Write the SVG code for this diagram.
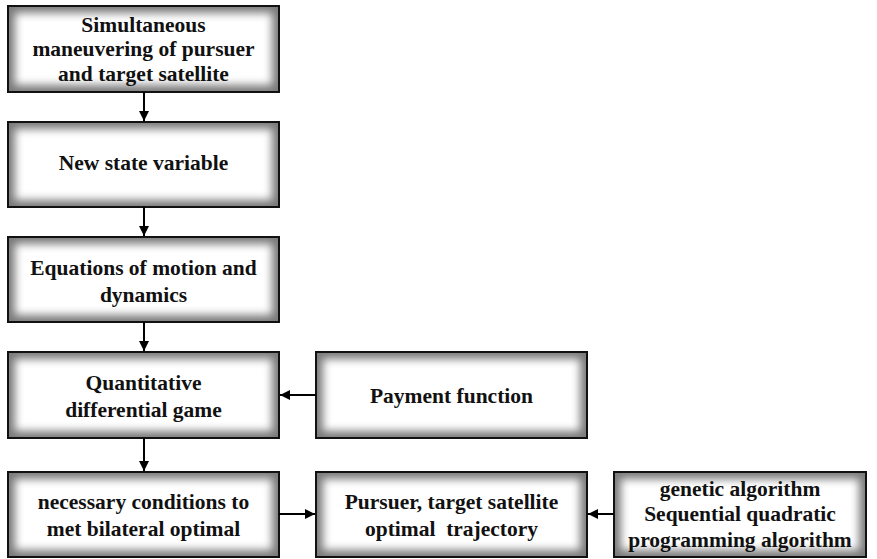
<svg xmlns="http://www.w3.org/2000/svg" width="877" height="559" viewBox="0 0 877 559">
<style>
.bg{fill:#7a7a7a}
.in{fill:#fff;filter:url(#soft)}
.bd{fill:none;stroke:#111;stroke-width:2}
.t{font-family:"Liberation Serif","Times New Roman",serif;font-weight:bold;font-size:21.5px;fill:#111;text-anchor:middle}
.c{stroke:#000;stroke-width:2;fill:none}
</style>
<defs>
<filter id="soft" x="-20%" y="-20%" width="140%" height="140%"><feGaussianBlur stdDeviation="4"/></filter>
<marker id="ah" viewBox="0 0 10 10" refX="10" refY="5" markerWidth="11" markerHeight="10" markerUnits="userSpaceOnUse" orient="auto"><path d="M0,0 L10,5 L0,10 z" fill="#000"/></marker>
</defs>
<g id="n1"><rect class="bg" x="8" y="6" width="271" height="86"/><rect class="in" x="15" y="13" width="257" height="72"/><rect class="bd" x="8" y="6" width="271" height="86"/>
<text class="t" x="143.5" y="32">Simultaneous</text><text class="t" x="143.5" y="56">maneuvering of pursuer</text><text class="t" x="143.5" y="81">and target satellite</text></g>
<g id="n2"><rect class="bg" x="8" y="122" width="271" height="85"/><rect class="in" x="15" y="129" width="257" height="71"/><rect class="bd" x="8" y="122" width="271" height="85"/>
<text class="t" x="143.5" y="170">New state variable</text></g>
<g id="n3"><rect class="bg" x="8" y="237" width="271" height="85"/><rect class="in" x="15" y="244" width="257" height="71"/><rect class="bd" x="8" y="237" width="271" height="85"/>
<text class="t" x="143.5" y="275">Equations of motion and</text><text class="t" x="143.5" y="302">dynamics</text></g>
<g id="n4"><rect class="bg" x="8" y="352" width="271" height="86"/><rect class="in" x="15" y="359" width="257" height="72"/><rect class="bd" x="8" y="352" width="271" height="86"/>
<text class="t" x="143.5" y="390">Quantitative</text><text class="t" x="143.5" y="417">differential game</text></g>
<g id="n5"><rect class="bg" x="316" y="352" width="271" height="86"/><rect class="in" x="323" y="359" width="257" height="72"/><rect class="bd" x="316" y="352" width="271" height="86"/>
<text class="t" x="451.5" y="403">Payment function</text></g>
<g id="n6"><rect class="bg" x="8" y="472" width="271" height="85"/><rect class="in" x="15" y="479" width="257" height="71"/><rect class="bd" x="8" y="472" width="271" height="85"/>
<text class="t" x="143.5" y="509">necessary conditions to</text><text class="t" x="143.5" y="536">met bilateral optimal</text></g>
<g id="n7"><rect class="bg" x="316" y="472" width="271" height="85"/><rect class="in" x="323" y="479" width="257" height="71"/><rect class="bd" x="316" y="472" width="271" height="85"/>
<text class="t" x="451.5" y="509">Pursuer, target satellite</text><text class="t" x="451.5" y="536" xml:space="preserve">optimal  trajectory</text></g>
<g id="n8"><rect class="bg" x="614" y="472" width="252" height="85"/><rect class="in" x="621" y="479" width="238" height="71"/><rect class="bd" x="614" y="472" width="252" height="85"/>
<text class="t" x="740" y="496">genetic algorithm</text><text class="t" x="740" y="521">Sequential quadratic</text><text class="t" x="740" y="547">programming algorithm</text></g>
<g id="connectors">
<line class="c" x1="144" y1="92" x2="144" y2="121" marker-end="url(#ah)"/>
<line class="c" x1="144" y1="207" x2="144" y2="236" marker-end="url(#ah)"/>
<line class="c" x1="144" y1="322" x2="144" y2="351" marker-end="url(#ah)"/>
<line class="c" x1="144" y1="438" x2="144" y2="471" marker-end="url(#ah)"/>
<line class="c" x1="316" y1="395" x2="280" y2="395" marker-end="url(#ah)"/>
<line class="c" x1="279" y1="514" x2="315" y2="514" marker-end="url(#ah)"/>
<line class="c" x1="614" y1="514" x2="588" y2="514" marker-end="url(#ah)"/>
</g>
</svg>
